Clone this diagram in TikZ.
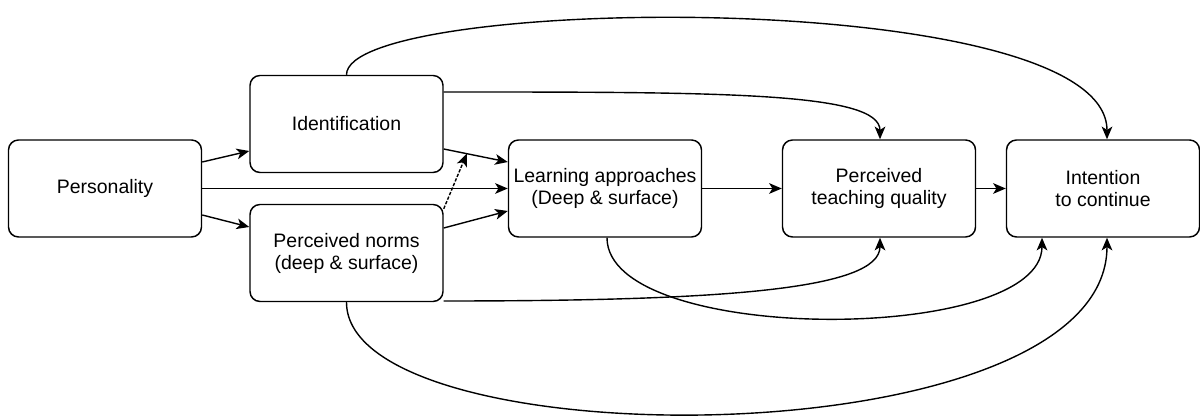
\documentclass[tikz,border=0pt]{standalone}
\usepackage{fontspec}
\setmainfont{Liberation Sans}
\usetikzlibrary{arrows.meta,calc}
\begin{document}
\begin{tikzpicture}[x=0.75pt,y=-0.75pt,
  box/.style={draw, rounded corners=7.5pt, line width=1.1pt, align=center,
    font=\fontsize{14.6}{16.5}\selectfont, inner sep=0pt},
  wbox/.style={box, minimum width=144.75pt, minimum height=72.75pt},
  conn/.style={line width=1.05pt, -{Stealth[length=9.5pt,width=8pt,inset=2.5pt]}},
  dconn/.style={conn, dash pattern=on 2.5pt off 1.2pt}
]
\useasboundingbox (0,0) rectangle (1200,416);
\node[wbox] (pers) at (105,188.5) {Personality};
\node[wbox] (ident) at (346.5,124) {Identification};
\node[wbox] (norms) at (346.5,253) {Perceived norms\\(deep \& surface)};
\node[wbox] (learn) at (605,188.5) {Learning approaches\\(Deep \& surface)};
\node[wbox] (teach) at (879,188.5) {Perceived\\teaching quality};
\node[wbox] (intent) at (1103,188.5) {Intention\\to continue};

\draw[conn] ($(pers.east)+(0,-26.5)$) -- ($(ident.west)+(0,27)$);
\draw[conn] ($(pers.east)+(0,26.5)$) -- ($(norms.west)+(0,-26)$);
\draw[conn] (pers.east) -- (learn.west);
\coordinate (ia) at ($(ident.east)+(0,25)$);
\coordinate (ib) at ($(learn.west)+(0,-26.5)$);
\draw[conn] (ia) -- (ib);
\draw[conn] ($(norms.east)+(0,-25)$) -- ($(learn.west)+(0,22.5)$);
\coordinate (onl) at ($(ia)!0.36!(ib)$);
\draw[dconn] ($(norms.north east)+(0,5)$) -- (onl);
\draw[conn] (learn.east) -- (teach.west);
\draw[conn] (teach.east) -- (intent.west);

% curved connectors
\draw[conn] (ident.north) .. controls (346.5,-5) and (1107,-15) .. ($(intent.north)+(4,0)$);
\draw[conn] ($(ident.east)+(0,-32)$) .. controls (720,92) and (880,92) .. ($(teach.north)+(1,0)$);
\draw[conn] ($(norms.east)+(0,48)$) .. controls (720,301) and (880,290) .. ($(teach.south)+(1,0)$);
\draw[conn] ($(learn.south)+(2,0)$) .. controls (607,345) and (1042,345) .. ($(intent.south)+(-61,0)$);
\draw[conn] (norms.south) .. controls (346.5,461) and (1107,461) .. ($(intent.south)+(4,0)$);
\end{tikzpicture}
\end{document}
